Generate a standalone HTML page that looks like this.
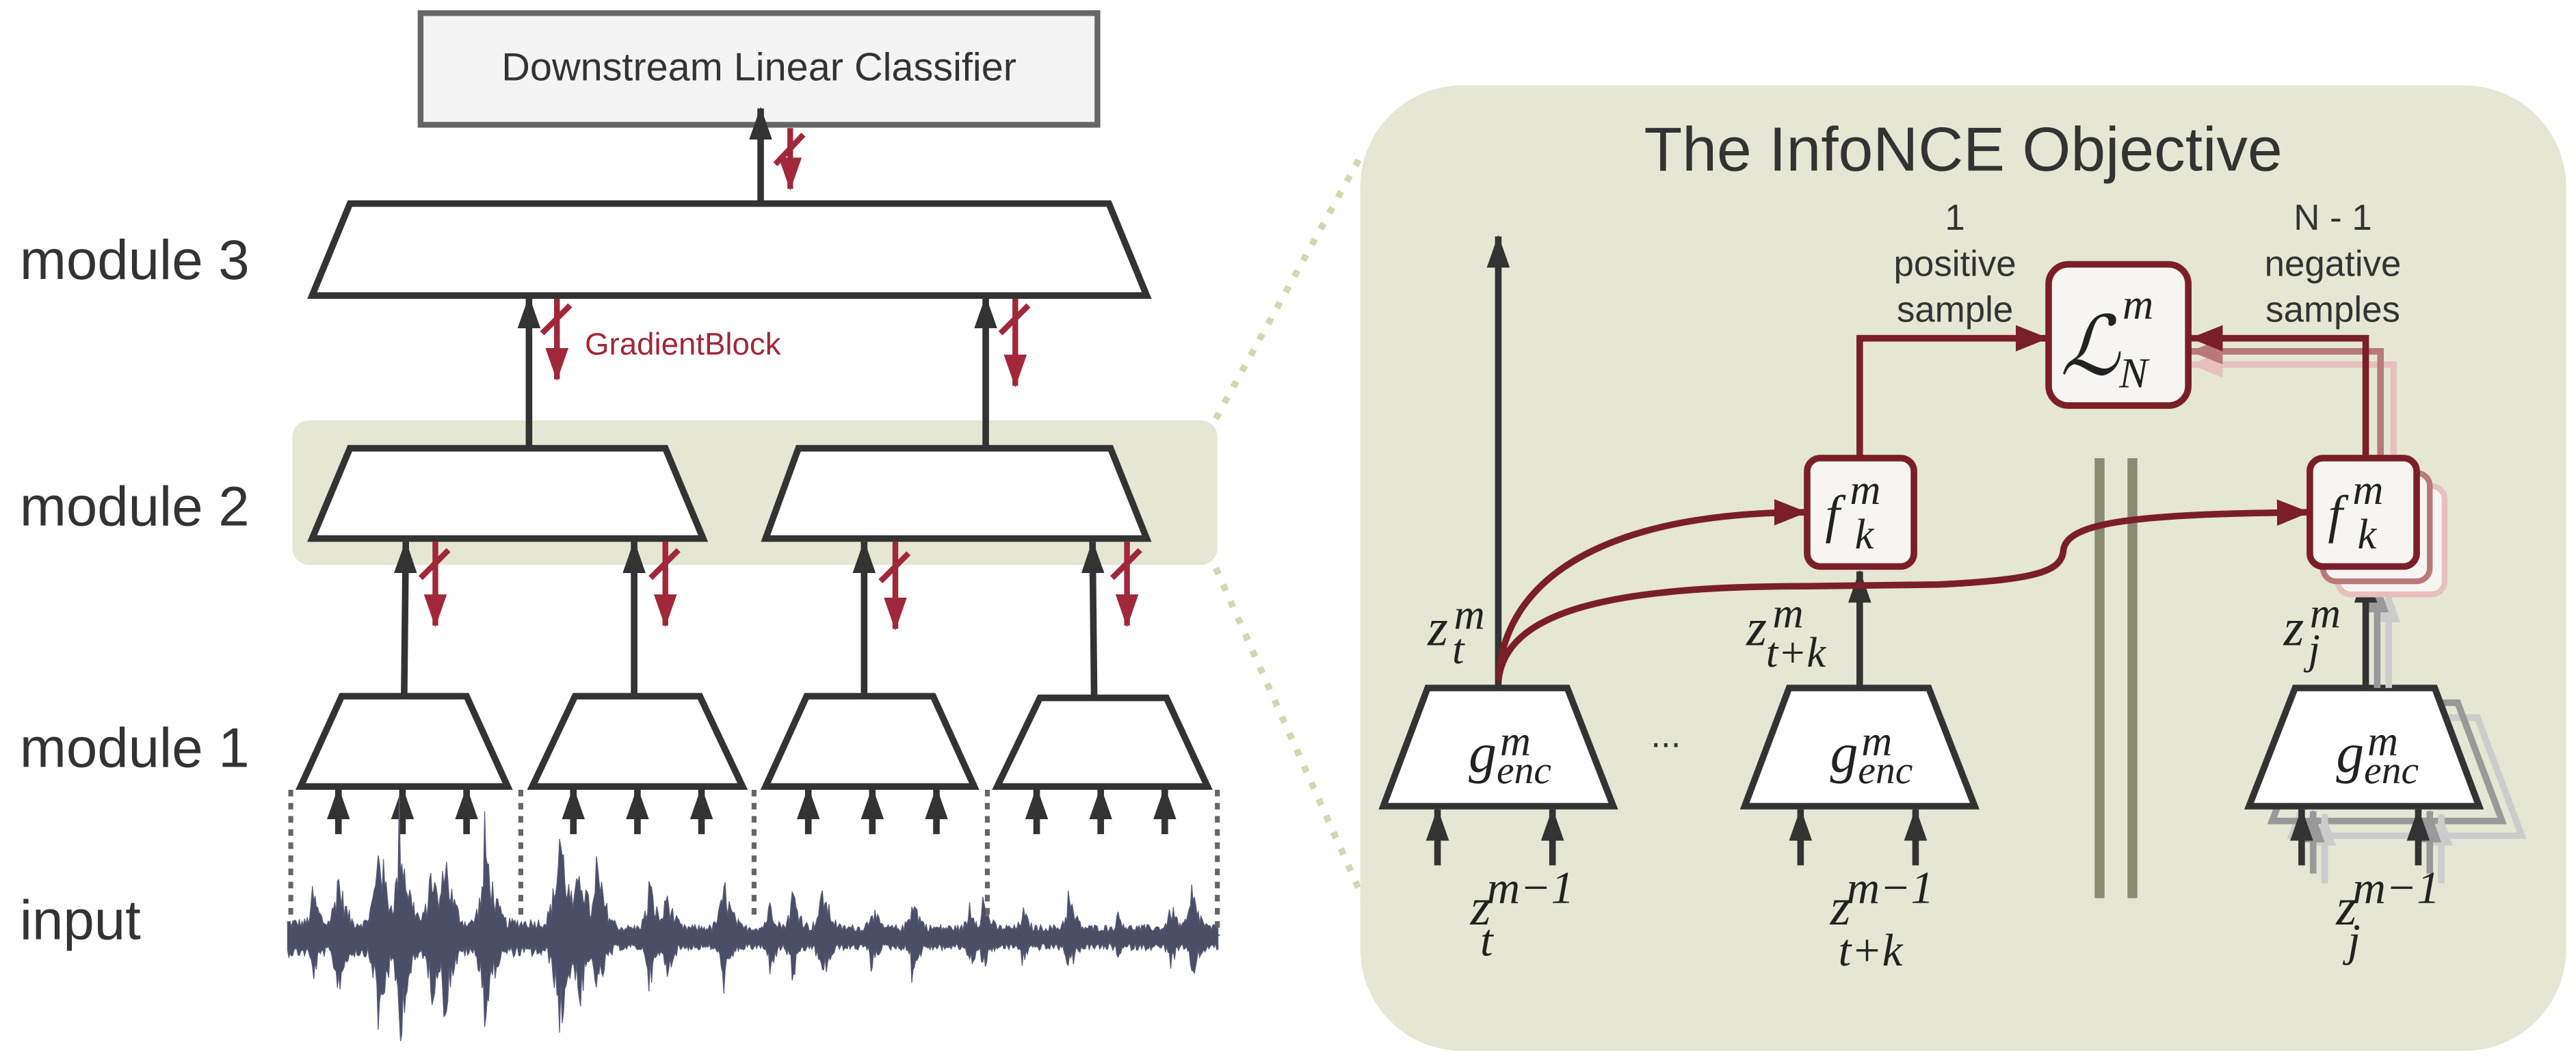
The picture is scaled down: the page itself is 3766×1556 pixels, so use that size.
<!DOCTYPE html>
<html><head><meta charset="utf-8"><style>
html,body{margin:0;padding:0;background:#fff;}
svg{display:block;}
.s{font-family:"Liberation Sans",sans-serif;fill:#333;}
.m{font-family:"Liberation Serif",serif;font-style:italic;fill:#222;}
</style></head><body>
<svg width="3766" height="1556" viewBox="0 0 1568 648" preserveAspectRatio="none" xmlns="http://www.w3.org/2000/svg">
<defs>
<marker id="ab" markerUnits="userSpaceOnUse" markerWidth="20" markerHeight="14" refX="19" refY="7" orient="auto"><path d="M0,0 L20,7 L0,14 z" fill="#333"/></marker>
<marker id="ag" markerUnits="userSpaceOnUse" markerWidth="20" markerHeight="14" refX="19" refY="7" orient="auto"><path d="M0,0 L20,7 L0,14 z" fill="#999"/></marker>
<marker id="al" markerUnits="userSpaceOnUse" markerWidth="20" markerHeight="14" refX="19" refY="7" orient="auto"><path d="M0,0 L20,7 L0,14 z" fill="#ccc"/></marker>
<marker id="ar" markerUnits="userSpaceOnUse" markerWidth="20" markerHeight="14" refX="19" refY="7" orient="auto"><path d="M0,0 L20,7 L0,14 z" fill="#a0283a"/></marker>
<marker id="ad" markerUnits="userSpaceOnUse" markerWidth="20" markerHeight="16" refX="19" refY="8" orient="auto"><path d="M0,0 L20,8 L0,16 z" fill="#7a1f28"/></marker>
<marker id="ad2" markerUnits="userSpaceOnUse" markerWidth="20" markerHeight="16" refX="19" refY="8" orient="auto"><path d="M0,0 L20,8 L0,16 z" fill="#b87a78"/></marker>
<marker id="ad3" markerUnits="userSpaceOnUse" markerWidth="20" markerHeight="16" refX="19" refY="8" orient="auto"><path d="M0,0 L20,8 L0,16 z" fill="#e6c0bf"/></marker>
</defs>

<rect x="256" y="8" width="412" height="68" fill="#f4f4f4" stroke="#666" stroke-width="3.5"/>
<text x="462" y="49" text-anchor="middle" class="s" font-size="24">Downstream Linear Classifier</text>

<text x="12" y="170" class="s" font-size="34">module 3</text>
<text x="12" y="320" class="s" font-size="34">module 2</text>
<text x="12" y="467" class="s" font-size="34">module 1</text>
<text x="12" y="572" class="s" font-size="34">input</text>

<rect x="178" y="256" width="563" height="88" rx="10" fill="#e5e6d3"/>
<line x1="740" y1="255" x2="830" y2="92" stroke="#d4d6b0" stroke-width="4" stroke-dasharray="4,7"/>
<line x1="740" y1="346" x2="830" y2="548" stroke="#d4d6b0" stroke-width="4" stroke-dasharray="4,7"/>

<g fill="#fff" stroke="#333" stroke-width="4" stroke-linejoin="miter">
<polygon points="213,124 675,124 698,180 190,180"/>
<polygon points="213,273 405,273 428,328 190,328"/>
<polygon points="486,273 676,273 698,328 466,328"/>
<polygon points="208,424 284,424 309,479 183,479"/>
<polygon points="350,424 426,424 452,479 324,479"/>
<polygon points="491,424 568,424 593,479 466,479"/>
<polygon points="633,425 710,425 735,479 607,479"/>
</g>

<g stroke="#333" stroke-width="4" fill="none" marker-end="url(#ab)">
<line x1="463" y1="124" x2="463" y2="66"/>
<line x1="322" y1="273" x2="322" y2="181"/>
<line x1="600" y1="273" x2="600" y2="181"/>
<line x1="246" y1="424" x2="247" y2="330"/>
<line x1="386" y1="424" x2="386" y2="330"/>
<line x1="526" y1="424" x2="526" y2="330"/>
<line x1="666" y1="424" x2="665" y2="330"/>
</g>
<g stroke="#333" stroke-width="4" fill="none" marker-end="url(#ab)">
<line x1="206" y1="508" x2="206" y2="480"/><line x1="245" y1="508" x2="245" y2="480"/><line x1="284" y1="508" x2="284" y2="480"/>
<line x1="349" y1="508" x2="349" y2="480"/><line x1="388" y1="508" x2="388" y2="480"/><line x1="427" y1="508" x2="427" y2="480"/>
<line x1="492" y1="508" x2="492" y2="480"/><line x1="531" y1="508" x2="531" y2="480"/><line x1="570" y1="508" x2="570" y2="480"/>
<line x1="631" y1="508" x2="631" y2="480"/><line x1="670" y1="508" x2="670" y2="480"/><line x1="709" y1="508" x2="709" y2="480"/>
</g>
<g stroke="#666" stroke-width="3" stroke-dasharray="4,4">
<line x1="177" y1="481" x2="177" y2="560"/><line x1="317" y1="481" x2="317" y2="560"/>
<line x1="459" y1="481" x2="459" y2="560"/><line x1="601" y1="481" x2="601" y2="560"/>
<line x1="741" y1="481" x2="741" y2="570"/>
</g>
<path id="wave" fill="#4a4e66" stroke="#5a5e78" stroke-width="0.5"/>

<g stroke="#a0283a" stroke-width="3.5" fill="none">
<line x1="481" y1="78" x2="481" y2="115" marker-end="url(#ar)"/><line x1="472" y1="100" x2="489" y2="82"/>
<line x1="339" y1="182" x2="339" y2="231" marker-end="url(#ar)"/><line x1="330" y1="203" x2="347" y2="186"/>
<line x1="618" y1="182" x2="618" y2="235" marker-end="url(#ar)"/><line x1="609" y1="203" x2="626" y2="186"/>
<line x1="265" y1="330" x2="265" y2="381" marker-end="url(#ar)"/><line x1="256" y1="352" x2="273" y2="335"/>
<line x1="405" y1="330" x2="405" y2="381" marker-end="url(#ar)"/><line x1="396" y1="352" x2="413" y2="335"/>
<line x1="545" y1="330" x2="545" y2="383" marker-end="url(#ar)"/><line x1="536" y1="354" x2="553" y2="337"/>
<line x1="686" y1="330" x2="686" y2="381" marker-end="url(#ar)"/><line x1="677" y1="352" x2="694" y2="335"/>
</g>
<text x="356" y="216" font-family="Liberation Sans,sans-serif" font-size="19" fill="#a0283a">GradientBlock</text>

<rect x="828" y="52" width="734" height="588" rx="62" fill="#e5e6d3"/>
<text x="1195" y="104" text-anchor="middle" class="s" font-size="38">The InfoNCE Objective</text>

<g stroke="#8a8c72" stroke-width="6"><line x1="1278" y1="279" x2="1278" y2="547"/><line x1="1298" y1="279" x2="1298" y2="547"/></g>

<polygon points="1423,437 1508,437 1535,509 1395,509" fill="none" stroke="#ccc" stroke-width="4"/>
<polygon points="1411,428 1496,428 1523,500 1383,500" fill="none" stroke="#999" stroke-width="4"/>
<g fill="#fff" stroke="#333" stroke-width="4">
<polygon points="869,419 954,419 982,491 842,491"/>
<polygon points="1089,419 1174,419 1202,491 1062,491"/>
<polygon points="1397,419 1482,419 1509,491 1369,491"/>
</g>
<g stroke="#ccc" stroke-width="4" marker-end="url(#al)"><line x1="1415" y1="538" x2="1415" y2="496"/><line x1="1486" y1="538" x2="1486" y2="496"/></g>
<g stroke="#999" stroke-width="4" marker-end="url(#ag)"><line x1="1408" y1="532" x2="1408" y2="494"/><line x1="1479" y1="532" x2="1479" y2="494"/></g>
<g stroke="#333" stroke-width="4" marker-end="url(#ab)">
<line x1="875" y1="527" x2="875" y2="493"/><line x1="945" y1="527" x2="945" y2="493"/>
<line x1="1096" y1="527" x2="1096" y2="493"/><line x1="1166" y1="527" x2="1166" y2="493"/>
<line x1="1401" y1="527" x2="1401" y2="493"/><line x1="1472" y1="527" x2="1472" y2="493"/>
<line x1="912" y1="419" x2="912" y2="144"/>
<line x1="1132" y1="419" x2="1132" y2="348"/>
</g>
<g stroke="#ccc" stroke-width="4" marker-end="url(#al)"><line x1="1454" y1="419" x2="1454" y2="360"/></g>
<g stroke="#999" stroke-width="4" marker-end="url(#ag)"><line x1="1447" y1="419" x2="1447" y2="354"/></g>
<g stroke="#333" stroke-width="4" marker-end="url(#ab)"><line x1="1440" y1="419" x2="1440" y2="348"/></g>

<text x="1014" y="455" text-anchor="middle" class="s" font-size="22">...</text>

<path d="M1457,280 L1457,222 L1334,222" fill="none" stroke="#e6c0bf" stroke-width="4" marker-end="url(#ad3)"/>
<path d="M1449,280 L1449,214 L1334,214" fill="none" stroke="#b87a78" stroke-width="4" marker-end="url(#ad2)"/>
<rect x="1423" y="296" width="65" height="66" rx="8" fill="#f6f5f2" stroke="#e6c0bf" stroke-width="3.5"/>
<rect x="1414" y="288" width="65" height="66" rx="8" fill="#f6f5f2" stroke="#b87a78" stroke-width="3.5"/>
<g fill="#f6f5f2" stroke="#7a1f28" stroke-width="4">
<rect x="1100" y="279" width="65" height="66" rx="8"/>
<rect x="1406" y="279" width="65" height="66" rx="8"/>
<rect x="1247" y="161" width="85" height="86" rx="12"/>
</g>
<g fill="none" stroke="#7a1f28" stroke-width="4">
<path d="M1132,279 L1132,206 L1246,206" marker-end="url(#ad)"/>
<path d="M1440,279 L1440,206 L1334,206" marker-end="url(#ad)"/>
<path d="M912,415 C915,345 990,312 1099,312" marker-end="url(#ad)"/>
<path d="M912,415 C916,372 980,357 1100,357 L1180,356 C1240,353 1255,348 1256,335 C1258,318 1300,313 1405,312" marker-end="url(#ad)"/>
</g>

<g class="m">
<text x="1254" y="228" font-size="50" font-family="Liberation Serif,serif">ℒ</text>
<text x="1292" y="194" font-size="26">m</text>
<text x="1290" y="236" font-size="26">N</text>

<text x="1111" y="324" font-size="32">f</text><text x="1126" y="307" font-size="26">m</text><text x="1129" y="334" font-size="26">k</text>
<text x="1417" y="324" font-size="32">f</text><text x="1432" y="307" font-size="26">m</text><text x="1435" y="334" font-size="26">k</text>

<text x="894" y="470" font-size="34">g</text><text x="913" y="460" font-size="26">m</text><text x="911" y="477" font-size="24">enc</text>
<text x="1114" y="470" font-size="34">g</text><text x="1133" y="460" font-size="26">m</text><text x="1131" y="477" font-size="24">enc</text>
<text x="1422" y="470" font-size="34">g</text><text x="1441" y="460" font-size="26">m</text><text x="1439" y="477" font-size="24">enc</text>

<text x="869" y="393" font-size="32">z</text><text x="885" y="383" font-size="26">m</text><text x="884" y="404" font-size="26">t</text>
<text x="1063" y="393" font-size="32">z</text><text x="1079" y="382" font-size="26">m</text><text x="1075" y="406" font-size="26">t+k</text>
<text x="1390" y="393" font-size="32">z</text><text x="1406" y="382" font-size="26">m</text><text x="1405" y="404" font-size="26">j</text>

<text x="895" y="563" font-size="32">z</text><text x="905" y="550" font-size="28">m−1</text><text x="901" y="582" font-size="28">t</text>
<text x="1114" y="563" font-size="32">z</text><text x="1124" y="550" font-size="28">m−1</text><text x="1119" y="588" font-size="28">t+k</text>
<text x="1422" y="563" font-size="32">z</text><text x="1432" y="550" font-size="28">m−1</text><text x="1429" y="582" font-size="28">j</text>
</g>

<g class="s" font-size="22" text-anchor="middle">
<text x="1190" y="140">1</text><text x="1190" y="168">positive</text><text x="1190" y="196">sample</text>
<text x="1420" y="140">N - 1</text><text x="1420" y="168">negative</text><text x="1420" y="196">samples</text>
</g>
</svg>
<script>
(function(){
var s=12345;function r(){s=(s*1103515245+12345)%2147483648;return s/2147483648;}
var peaks=[[190,25],[205,35],[230,55],[243,60],[262,40],[270,48],[295,52],[340,62],[352,45],[363,38],[395,28],[405,25],[440,30],[468,20],[482,25],[500,28],[530,18],[555,22],[590,18],[598,20],[622,15],[650,22],[680,14],[712,18],[725,25]];
function env(x,up){var a=x<360?12:8;for(var i=0;i<peaks.length;i++){var d=Math.abs(x-peaks[i][0]);var h=peaks[i][1]*(up?1:0.85);var v=h*Math.exp(-d/5)+ (x>peaks[i][0]? h*0.5*Math.exp(-(x-peaks[i][0])/12):0);if(v>a)a=v;}return a;}
var cy=571,top=[],bot=[];
for(var x=175;x<=742;x+=0.8){var u=env(x,1)*(0.45+0.55*r());var d=env(x,0)*(0.45+0.55*r());top.push(x.toFixed(1)+","+(cy-u).toFixed(1));bot.unshift(x.toFixed(1)+","+(cy+d).toFixed(1));}
document.getElementById("wave").setAttribute("d","M"+top.join(" L")+" L"+bot.join(" L")+" Z");
})();
</script>
</body></html>
